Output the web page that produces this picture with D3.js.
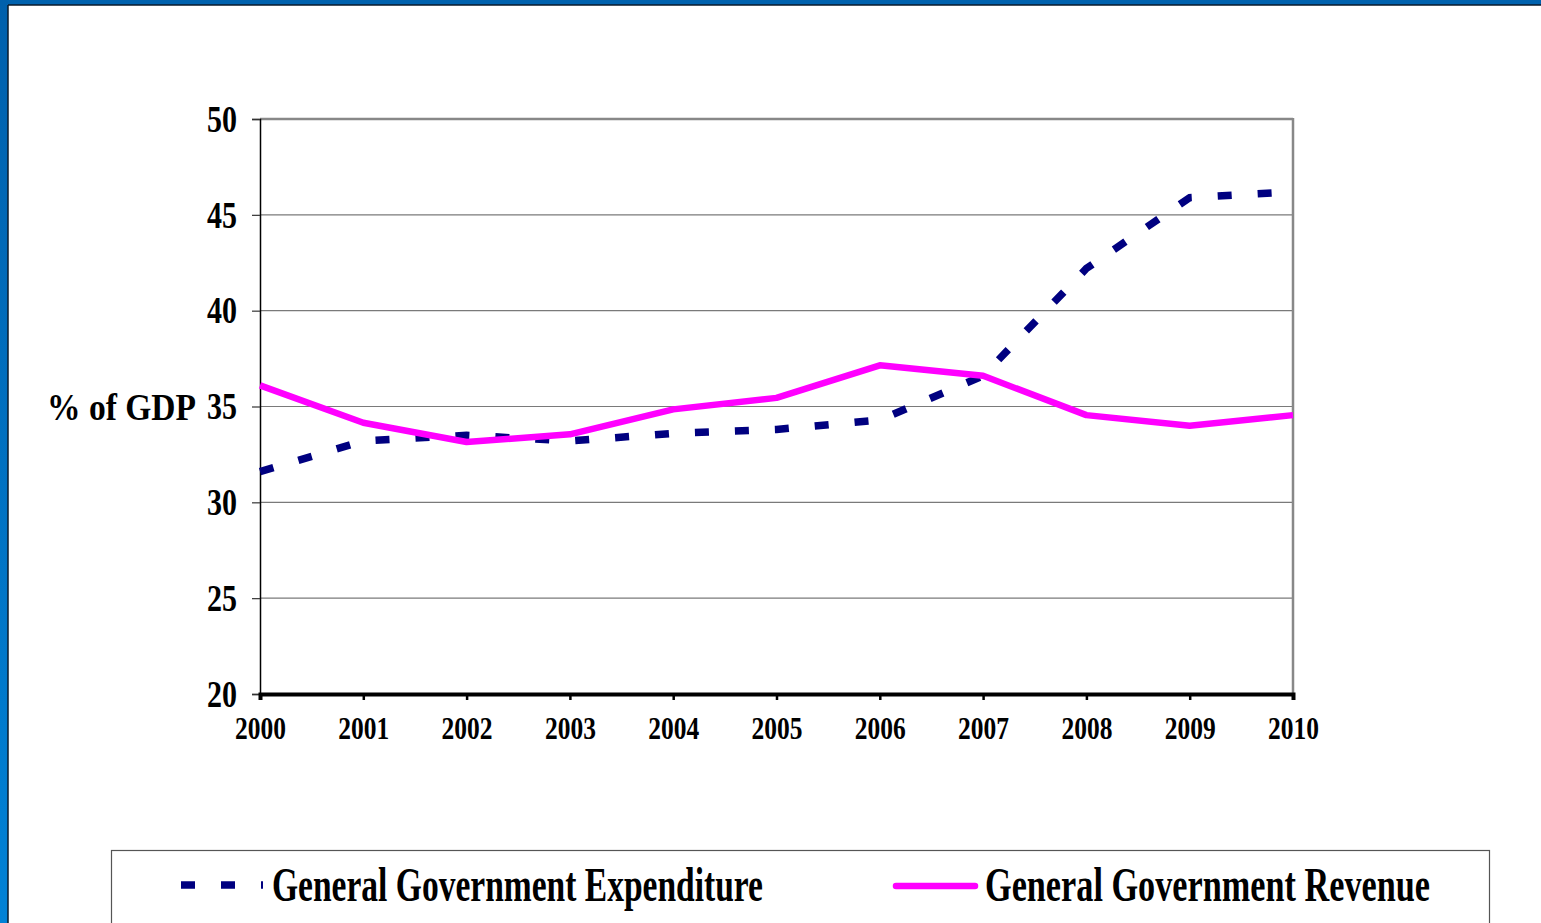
<!DOCTYPE html>
<html>
<head>
<meta charset="utf-8">
<script src="https://cdn.jsdelivr.net/npm/d3@7"></script>
<style>
  body { margin: 0; background: #fff; }
  svg text { font-family: "Liberation Serif", "Times New Roman", serif; font-weight: bold; }
</style>
</head>
<body>
<div id="chart"></div>
<script>
const years = [2000, 2001, 2002, 2003, 2004, 2005, 2006, 2007, 2008, 2009, 2010];
const expenditure = [31.6, 33.2, 33.5, 33.2, 33.6, 33.8, 34.3, 36.6, 42.2, 45.9, 46.2];
const revenue = [36.1, 34.15, 33.15, 33.55, 34.85, 35.45, 37.15, 36.6, 34.55, 34.0, 34.55];
const yTicks = [20, 25, 30, 35, 40, 45, 50];
const seriesNames = ["General Government Expenditure", "General Government Revenue"];

const width = 1541;
const height = 923;
const margin = { top: 119, bottom: 229, left: 260, right: 248 };

const svg = d3.select("#chart")
  .append("svg")
  .attr("width", width)
  .attr("height", height);

// slide frame
const grad = svg.append("defs").append("linearGradient")
  .attr("id", "side").attr("x1", 0).attr("y1", 0).attr("x2", 0).attr("y2", 1);
grad.append("stop").attr("offset", "0%").attr("stop-color", "#0060ac");
grad.append("stop").attr("offset", "100%").attr("stop-color", "#0182d6");
svg.append("rect").attr("x", 0).attr("y", 0).attr("width", width).attr("height", 5).attr("fill", "#0062ae");
svg.append("line").attr("x1", 0).attr("x2", width).attr("y1", 5).attr("y2", 5).attr("stroke", "#0a1a2a").attr("stroke-width", 1.5);
svg.append("rect").attr("x", 0).attr("y", 0).attr("width", 8).attr("height", height).attr("fill", "url(#side)");
svg.append("line").attr("x1", 8).attr("x2", 8).attr("y1", 5).attr("y2", height).attr("stroke", "#0a1a2a").attr("stroke-width", 1.5);

const x = d3.scaleLinear()
  .domain([2000, 2010])
  .range([margin.left, width - margin.right]);

const y = d3.scaleLinear()
  .domain([20, 50])
  .range([height - margin.bottom, margin.top]);

// gridlines
svg.append("g")
  .selectAll("line")
  .data(yTicks.filter(d => d > 20))
  .join("line")
    .attr("x1", x(2000))
    .attr("x2", x(2010))
    .attr("y1", d => y(d))
    .attr("y2", d => y(d))
    .attr("stroke", d => d === 50 ? "#888" : "#7a7a7a")
    .attr("stroke-width", d => d === 50 ? 2.5 : 1.2);

// right frame edge
svg.append("line")
  .attr("x1", x(2010)).attr("x2", x(2010))
  .attr("y1", y(50) - 1).attr("y2", y(20))
  .attr("stroke", "#888").attr("stroke-width", 2.5);

function yAxis(g) {
  g.attr("transform", `translate(${margin.left},0)`)
    .call(d3.axisLeft(y).tickValues(yTicks).tickSize(8).tickPadding(15))
    .call(g => g.select(".domain").attr("stroke", "#000").attr("stroke-width", 1.5))
    .call(g => g.selectAll(".tick line").attr("stroke", "#333").attr("stroke-width", 1.2));
  g.selectAll(".tick text")
    .attr("font-size", 37)
    .attr("fill", "#000")
    .attr("dy", "0.33em")
    .attr("textLength", 30)
    .attr("lengthAdjust", "spacingAndGlyphs");
}

function xAxis(g) {
  g.attr("transform", `translate(0,${height - margin.bottom})`)
    .call(d3.axisBottom(x).tickValues(years).tickFormat(d3.format("d")).tickSize(6).tickPadding(17))
    .call(g => g.select(".domain").attr("stroke", "#000").attr("stroke-width", 4))
    .call(g => g.selectAll(".tick line").attr("stroke", "#000").attr("stroke-width", 2.5));
  g.selectAll(".tick text")
    .attr("font-size", 31)
    .attr("fill", "#000")
    .attr("textLength", 51)
    .attr("lengthAdjust", "spacingAndGlyphs");
}

svg.append("g").call(yAxis);
svg.append("g").call(xAxis);

svg.append("text")
  .attr("x", 47)
  .attr("y", 420)
  .attr("font-size", 37)
  .attr("textLength", 149)
  .attr("lengthAdjust", "spacingAndGlyphs")
  .text("% of GDP");

const line = d3.line()
  .x((d, i) => x(years[i]))
  .y(d => y(d));

svg.append("path")
  .datum(expenditure)
  .attr("fill", "none")
  .attr("stroke", "#000080")
  .attr("stroke-width", 7.5)
  .attr("stroke-dasharray", "14,26")
  .attr("d", line);

svg.append("path")
  .datum(revenue)
  .attr("fill", "none")
  .attr("stroke", "#ff00ff")
  .attr("stroke-width", 6.5)
  .attr("stroke-linejoin", "round")
  .attr("d", line);

// legend
const legend = svg.append("g");
legend.append("rect")
  .attr("x", 111.5).attr("y", 850.5)
  .attr("width", 1378).attr("height", 120)
  .attr("fill", "none").attr("stroke", "#555").attr("stroke-width", 1.2);

legend.append("line")
  .attr("x1", 181).attr("x2", 263).attr("y1", 885).attr("y2", 885)
  .attr("stroke", "#000080").attr("stroke-width", 7.5)
  .attr("stroke-dasharray", "14,26");
legend.append("line")
  .attr("x1", 896).attr("x2", 975).attr("y1", 886).attr("y2", 886)
  .attr("stroke", "#ff00ff").attr("stroke-width", 6.5)
  .attr("stroke-linecap", "round");

legend.append("text")
  .attr("x", 272).attr("y", 901)
  .attr("font-size", 48)
  .attr("textLength", 491)
  .attr("lengthAdjust", "spacingAndGlyphs")
  .text(seriesNames[0]);
legend.append("text")
  .attr("x", 985).attr("y", 901)
  .attr("font-size", 48)
  .attr("textLength", 445)
  .attr("lengthAdjust", "spacingAndGlyphs")
  .text(seriesNames[1]);
</script>
</body>
</html>
